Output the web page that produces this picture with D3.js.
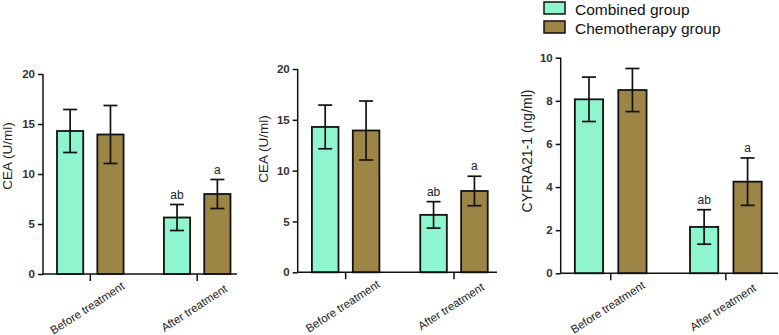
<!DOCTYPE html>
<html>
<head>
<meta charset="utf-8">
<script src="https://cdn.jsdelivr.net/npm/d3@7"></script>
<style>
  body { margin: 0; background: #fff; }
  text { font-family: Arial, "Liberation Sans", Helvetica, sans-serif; }
</style>
</head>
<body>
<div id="chart"></div>
<script>
// Data
var categories = ["Before treatment", "After treatment"];
var groups = ["Combined group", "Chemotherapy group"];
var groupColors = ["#8ff5cf", "#9c8545"];

var ceaCombined = [14.3, 5.65];
var ceaCombinedErr = [2.15, 1.3];
var ceaChemo = [13.95, 8.0];
var ceaChemoErr = [2.9, 1.45];

var cyfraCombined = [8.07, 2.15];
var cyfraCombinedErr = [1.03, 0.8];
var cyfraChemo = [8.5, 4.25];
var cyfraChemoErr = [1.0, 1.1];

var ceaTicks = [0, 5, 10, 15, 20];
var cyfraTicks = [0, 2, 4, 6, 8, 10];

var combinedMarks = ["", "ab"];
var chemoMarks = ["", "a"];

var width = 779,
  height = 335;

var svg = d3.select("#chart")
  .append("svg")
  .attr("width", width)
  .attr("height", height);

// panel layouts
var panels = [
  { left: 43, right: 237, top: 74, bottom: 274, c1: 90.3, step: 106.9,
    ticks: ceaTicks, title: "CEA (U/ml)", titleX: 7, titleY: 156, titleSize: 13.5,
    values: [ceaCombined, ceaChemo], errs: [ceaCombinedErr, ceaChemoErr] },
  { left: 297.7, right: 497, top: 69, bottom: 272.3, c1: 345.65, step: 108.35,
    ticks: ceaTicks, title: "CEA (U/ml)", titleX: 263, titleY: 149, titleSize: 13.5,
    values: [ceaCombined, ceaChemo], errs: [ceaCombinedErr, ceaChemoErr] },
  { left: 560.7, right: 778, top: 57.7, bottom: 273.3, c1: 610.7, step: 115.15,
    ticks: cyfraTicks, title: "CYFRA21-1 (ng/ml)", titleX: 527, titleY: 151, titleSize: 14,
    values: [cyfraCombined, cyfraChemo], errs: [cyfraCombinedErr, cyfraChemoErr] }
];

var marks = [combinedMarks, chemoMarks];

panels.forEach(function(p) {
  var g = svg.append("g");

  var y = d3.scaleLinear()
    .domain([0, d3.max(p.ticks)])
    .range([p.bottom, p.top]);

  var x0 = d3.scaleBand()
    .domain(categories)
    .range([p.c1 - p.step / 2, p.c1 + 1.5 * p.step]);

  var x1 = d3.scaleBand()
    .domain(groups)
    .range([0, x0.bandwidth()])
    .paddingInner(0.35)
    .paddingOuter(0.5);

  // bars
  var rows = [];
  categories.forEach(function(c, i) {
    groups.forEach(function(gr, j) {
      rows.push({ cat: c, group: gr, j: j, v: p.values[j][i], e: p.errs[j][i], mark: marks[j][i] });
    });
  });

  g.selectAll("rect.bar")
    .data(rows)
    .enter().append("rect")
    .attr("class", "bar")
    .attr("x", function(d) { return x0(d.cat) + x1(d.group); })
    .attr("y", function(d) { return y(d.v); })
    .attr("width", x1.bandwidth())
    .attr("height", function(d) { return y(0) - y(d.v); })
    .attr("fill", function(d) { return groupColors[d.j]; })
    .attr("stroke", "#111")
    .attr("stroke-width", 1.8);

  // error bars
  var eb = g.selectAll("g.err")
    .data(rows)
    .enter().append("g")
    .attr("class", "err")
    .attr("transform", function(d) {
      return "translate(" + (x0(d.cat) + x1(d.group) + x1.bandwidth() / 2) + ",0)";
    });

  eb.append("line")
    .attr("y1", function(d) { return y(d.v + d.e); })
    .attr("y2", function(d) { return y(d.v - d.e); })
    .attr("stroke", "#111").attr("stroke-width", 1.7);
  eb.append("line")
    .attr("x1", -7).attr("x2", 7)
    .attr("y1", function(d) { return y(d.v + d.e); })
    .attr("y2", function(d) { return y(d.v + d.e); })
    .attr("stroke", "#111").attr("stroke-width", 1.7);
  eb.append("line")
    .attr("x1", -7).attr("x2", 7)
    .attr("y1", function(d) { return y(d.v - d.e); })
    .attr("y2", function(d) { return y(d.v - d.e); })
    .attr("stroke", "#111").attr("stroke-width", 1.7);
  eb.append("text")
    .attr("y", function(d) { return y(d.v + d.e) - 6; })
    .attr("text-anchor", "middle")
    .attr("font-size", "12px")
    .attr("fill", "#222")
    .text(function(d) { return d.mark; });

  // y axis
  var yAxis = g.append("g")
    .attr("transform", "translate(" + p.left + ",0)")
    .call(d3.axisLeft(y).tickValues(p.ticks).tickSize(5).tickPadding(3).tickFormat(d3.format("d")));
  yAxis.select(".domain").attr("stroke", "#111").attr("stroke-width", 1.5)
    .attr("d", "M0," + p.top + "V" + p.bottom);
  yAxis.selectAll(".tick line").attr("stroke", "#111").attr("stroke-width", 1.5);
  yAxis.selectAll(".tick text")
    .attr("font-size", "11.5px")
    .attr("font-weight", "bold")
    .attr("fill", "#333")
    .style("font-family", "Arial, 'Liberation Sans', sans-serif");

  // x axis
  var xAxis = g.append("g")
    .attr("transform", "translate(0," + p.bottom + ")")
    .call(d3.axisBottom(x0).tickSize(7).tickSizeOuter(0).tickFormat(""));
  xAxis.select(".domain").attr("stroke", "#111").attr("stroke-width", 1.5)
    .attr("d", "M" + p.left + ",0H" + p.right);
  xAxis.selectAll(".tick line").attr("stroke", "#111").attr("stroke-width", 1.5);

  g.selectAll("text.cat")
    .data(categories)
    .enter().append("text")
    .attr("class", "cat")
    .attr("text-anchor", "middle")
    .attr("dy", "0.35em")
    .attr("font-size", "11.5px")
    .attr("fill", "#222")
    .attr("transform", function(d) {
      return "translate(" + (x0(d) + x0.bandwidth() / 2 - 3) + "," + (p.bottom + 34) + ") rotate(-33)";
    })
    .text(function(d) { return d; });

  // y title
  g.append("text")
    .attr("transform", "translate(" + p.titleX + "," + p.titleY + ") rotate(-90)")
    .attr("text-anchor", "middle")
    .attr("dy", "0.35em")
    .attr("font-size", p.titleSize + "px")
    .attr("fill", "#222")
    .text(p.title);
});

// Legend
var legend = svg.append("g")
  .attr("transform", "translate(544,2)");

var items = legend.selectAll("g")
  .data(groups)
  .enter().append("g")
  .attr("transform", function(d, i) { return "translate(0," + (i * 19) + ")"; });

items.append("rect")
  .attr("width", 21)
  .attr("height", 12)
  .attr("fill", function(d, i) { return groupColors[i]; })
  .attr("stroke", "#111")
  .attr("stroke-width", 1.5);

items.append("text")
  .attr("x", 31)
  .attr("y", 12.5)
  .attr("font-size", "15.5px")
  .attr("fill", "#111")
  .text(function(d) { return d; });
</script>
</body>
</html>
